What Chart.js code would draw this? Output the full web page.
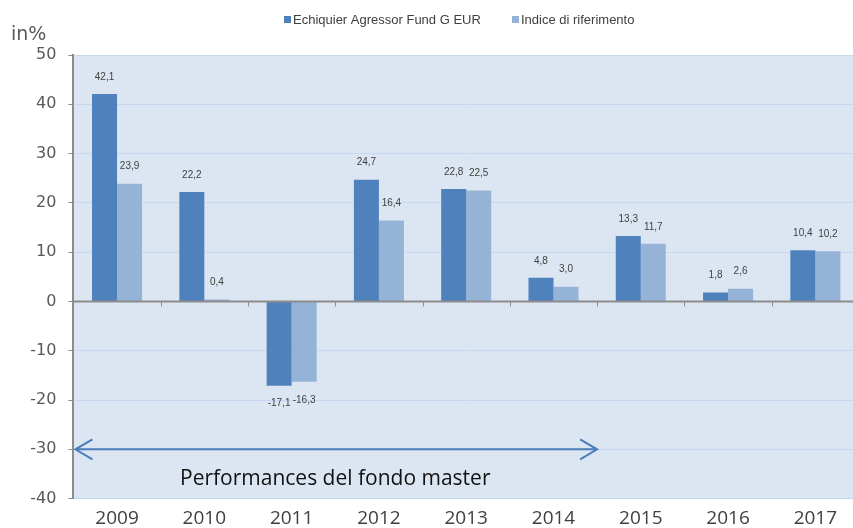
<!DOCTYPE html>
<html>
<head>
<meta charset="utf-8">
<script src="https://cdn.jsdelivr.net/npm/chart.js@4.4.0/dist/chart.umd.min.js"></script>
<style>
  html, body { margin: 0; padding: 0; background: #fff; overflow: hidden; }
  #wrap { position: relative; width: 860px; height: 528px; }
</style>
</head>
<body>
<div id="wrap"><canvas id="perfChart"></canvas></div>
<script>
// Annual performance, fund vs benchmark (in %)
const years = ['2009', '2010', '2011', '2012', '2013', '2014', '2015', '2016', '2017'];
const fundValues = [42.1, 22.2, -17.1, 24.7, 22.8, 4.8, 13.3, 1.8, 10.4];
const indexValues = [23.9, 0.4, -16.3, 16.4, 22.5, 3.0, 11.7, 2.6, 10.2];
const seriesNames = ['Echiquier Agressor Fund G EUR', 'Indice di riferimento'];
const yTicks = { min: -40, max: 50, step: 10 };
const masterText = 'Performances del fondo master';
const masterLastYear = '2014';

const C = {
    dark: '#4f81bd',
    light: '#95b3d7',
    plotBg: '#dce6f2',
    grid: '#c6d9f0',
    axis: '#8c8c8c',
    label: '#404040',
    tick: '#595959',
    arrow: '#4a7ebb',
};

const fmt = v => v.toFixed(1).replace('.', ',');

// plot background, zero-line ticks, value labels, arrow and legend
const decor = {
    id: 'decor',
    beforeDraw(chart) {
        const { ctx, chartArea: a } = chart;
        ctx.save();
        ctx.fillStyle = C.plotBg;
        ctx.fillRect(a.left, a.top, a.right - a.left, a.bottom - a.top);
        ctx.restore();
    },
    afterDatasetsDraw(chart) {
        const { ctx, chartArea: a, scales: { x, y } } = chart;
        const y0 = y.getPixelForValue(0);
        ctx.save();

        // zero line with category-boundary ticks
        ctx.strokeStyle = C.axis;
        ctx.lineWidth = 2;
        ctx.beginPath();
        ctx.moveTo(a.left, y0);
        ctx.lineTo(a.right, y0);
        ctx.stroke();
        ctx.lineWidth = 1;
        const step = x.getPixelForValue(1) - x.getPixelForValue(0);
        for (let i = 1; i < years.length; i++) {
            const px = Math.round(x.getPixelForValue(i) - step / 2) + 0.5;
            ctx.beginPath();
            ctx.moveTo(px, y0);
            ctx.lineTo(px, y0 + 5);
            ctx.stroke();
        }

        // value labels
        ctx.fillStyle = C.label;
        ctx.font = '10px "Liberation Sans", Arial, sans-serif';
        ctx.textAlign = 'center';
        ctx.textBaseline = 'middle';
        chart.data.datasets.forEach((ds, di) => {
            chart.getDatasetMeta(di).data.forEach((bar, i) => {
                const v = ds.data[i];
                const ly = v >= 0 ? bar.y - 17 : bar.y + 18;
                ctx.fillText(fmt(v), bar.x, ly);
            });
        });

        // double-headed arrow over the master-fund period
        const ay = y.getPixelForValue(-30);
        const lastIdx = years.indexOf(masterLastYear);
        const ax0 = a.left + 2;
        const ax1 = x.getPixelForValue(lastIdx) + step / 2;
        ctx.strokeStyle = C.arrow;
        ctx.lineWidth = 2;
        ctx.beginPath();
        ctx.moveTo(ax0, ay);
        ctx.lineTo(ax1, ay);
        ctx.moveTo(ax0 + 17, ay - 10);
        ctx.lineTo(ax0, ay);
        ctx.lineTo(ax0 + 17, ay + 10);
        ctx.moveTo(ax1 - 17, ay - 10);
        ctx.lineTo(ax1, ay);
        ctx.lineTo(ax1 - 17, ay + 10);
        ctx.stroke();

        ctx.fillStyle = '#111';
        ctx.font = '21px "Open Sans", sans-serif';
        ctx.textAlign = 'left';
        ctx.fillText(masterText, 180, 479);

        // unit label
        ctx.fillStyle = C.tick;
        ctx.font = '19px "DejaVu Sans", sans-serif';
        ctx.fillText('in%', 11, 35);

        // legend
        ctx.font = '13px "Liberation Sans", Arial, sans-serif';
        ctx.fillStyle = C.dark;
        ctx.fillRect(284, 16, 7, 7);
        ctx.fillStyle = C.light;
        ctx.fillRect(512, 16, 7, 7);
        ctx.fillStyle = C.label;
        ctx.fillText(seriesNames[0], 293, 20);
        ctx.fillText(seriesNames[1], 521, 20);
        ctx.restore();
    },
};

new Chart(document.getElementById('perfChart'), {
    type: 'bar',
    data: {
        labels: years,
        datasets: [
            { label: seriesNames[0], data: fundValues, backgroundColor: C.dark },
            { label: seriesNames[1], data: indexValues, backgroundColor: C.light },
        ],
    },
    options: {
        responsive: true,
        maintainAspectRatio: false,
        animation: false,
        devicePixelRatio: 1,
        layout: { padding: { top: 55, right: 1, left: 0, bottom: 0 } },
        datasets: { bar: { categoryPercentage: 0.573, barPercentage: 1 } },
        plugins: { legend: { display: false }, tooltip: { enabled: false } },
        scales: {
            x: {
                grid: { display: false },
                border: { display: false },
                ticks: { color: C.label, padding: 2, font: { family: 'Open Sans', size: 19, lineHeight: 1 } },
                afterFit: s => { s.height = 29.4; },
            },
            y: {
                min: yTicks.min,
                max: yTicks.max,
                grid: {
                    color: C.grid,
                    lineWidth: 1,
                    tickLength: 5,
                    tickColor: C.axis,
                },
                border: { display: true, color: C.axis, width: 2 },
                ticks: {
                    stepSize: yTicks.step,
                    color: C.tick,
                    padding: 12,
                    font: { family: 'DejaVu Sans', size: 16 },
                },
                afterFit: s => { s.width = 73.4; },
            },
        },
    },
    plugins: [decor],
});
</script>
</body>
</html>
